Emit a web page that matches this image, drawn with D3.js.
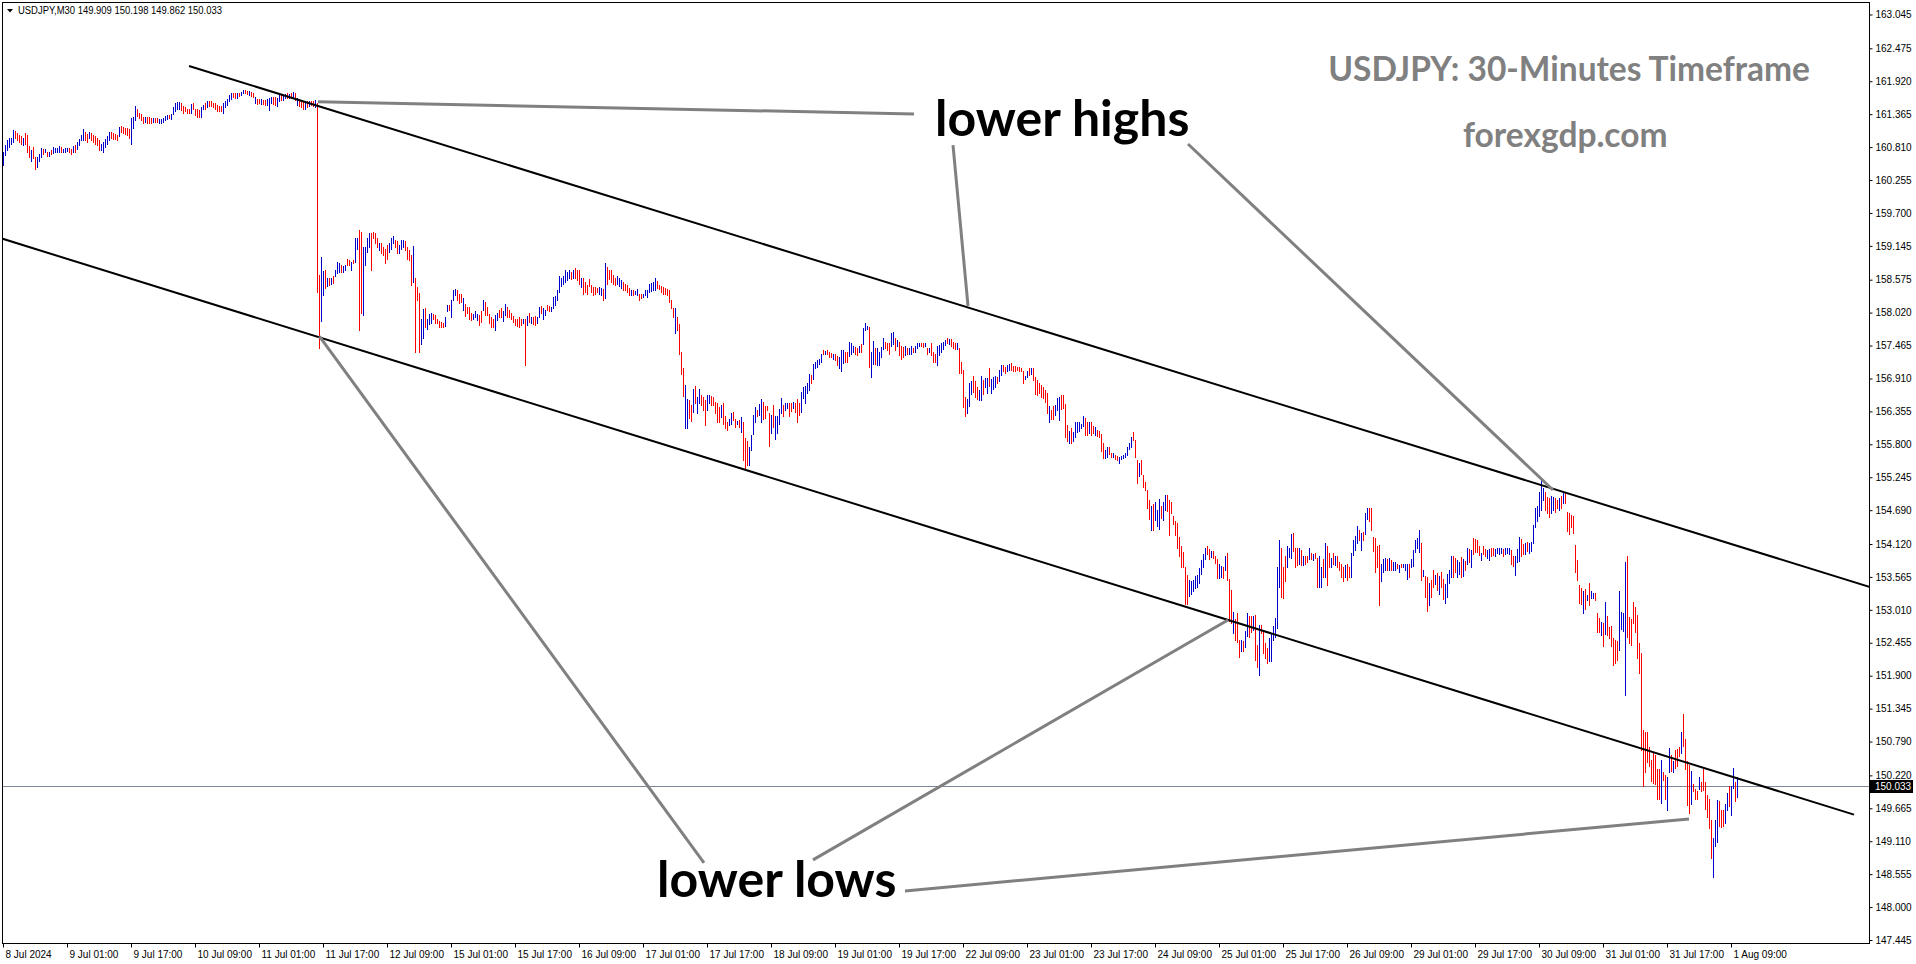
<!DOCTYPE html>
<html><head><meta charset="utf-8">
<script src="https://cdn.jsdelivr.net/npm/d3@7"></script>
<style>html,body{margin:0;padding:0;background:#fff;overflow:hidden}</style>
</head><body>
<svg id="c" width="1916" height="964"></svg>
<script>
// ---- DATA (30-minute bars, 8 Jul 2024 09:00 .. 1 Aug 2024 10:30) ----
const symbolName = "USDJPY,M30";
const lastOHLC = [149.909, 150.198, 149.862, 150.033];
const currentPrice = 150.033;

const highs = [
160.73,160.85,160.93,160.96,160.96,161.10,161.08,161.05,161.01,160.99,
160.96,161.05,161.01,160.83,160.76,160.81,160.65,160.64,160.69,160.79,
160.78,160.77,160.73,160.73,160.76,160.82,160.79,160.79,160.83,160.81,
160.77,160.79,160.79,160.79,160.77,160.83,160.85,160.90,160.95,161.01,
161.11,161.07,161.03,161.07,161.05,161.01,161.00,160.96,160.93,160.87,
160.90,160.94,161.00,161.07,161.07,161.04,161.03,161.01,161.15,161.17,
161.15,161.13,161.14,161.11,161.30,161.32,161.50,161.45,161.38,161.37,
161.32,161.32,161.32,161.31,161.30,161.30,161.30,161.30,161.28,161.28,
161.30,161.33,161.35,161.35,161.37,161.48,161.56,161.57,161.57,161.55,
161.50,161.48,161.46,161.46,161.54,161.55,161.46,161.45,161.44,161.49,
161.52,161.55,161.58,161.59,161.58,161.56,161.55,161.52,161.50,161.50,
161.55,161.59,161.62,161.69,161.73,161.73,161.72,161.72,161.72,161.74,
161.78,161.77,161.76,161.76,161.74,161.73,161.65,161.62,161.62,161.62,
161.60,161.60,161.62,161.63,161.66,161.66,161.65,161.63,161.69,161.69,
161.69,161.71,161.72,161.71,161.73,161.74,161.73,161.63,161.62,161.59,
161.58,161.58,161.59,161.58,161.58,161.58,161.60,161.55,158.65,158.96,
158.72,158.74,158.60,158.61,158.61,158.64,158.74,158.88,158.86,158.82,
158.81,158.82,158.92,158.91,158.88,158.91,159.27,159.27,159.42,159.38,
159.13,159.13,159.27,159.36,159.37,159.38,159.36,159.27,159.20,159.19,
159.13,159.10,159.16,159.19,159.27,159.31,159.24,159.22,159.16,159.24,
159.24,159.22,159.13,159.08,158.99,159.14,158.60,158.46,158.35,157.92,
158.08,158.09,157.92,157.99,158.01,157.99,157.98,157.92,157.88,157.87,
157.85,157.94,158.15,158.15,158.23,158.40,158.41,158.40,158.34,158.33,
158.26,158.16,158.12,158.11,158.01,157.99,158.04,157.99,157.98,158.04,
158.23,158.20,158.12,157.99,157.95,157.92,157.98,158.01,158.06,158.09,
158.04,158.16,158.12,158.06,158.01,157.96,157.92,157.92,157.95,157.92,
157.92,157.92,157.96,158.01,157.95,157.94,157.96,157.95,158.11,158.13,
158.09,158.07,158.15,158.13,158.12,158.29,158.30,158.40,158.63,158.61,
158.63,158.73,158.71,158.73,158.71,158.73,158.77,158.74,158.74,158.61,
158.60,158.54,158.48,158.58,158.48,158.46,158.45,158.43,158.45,158.43,
158.41,158.85,158.79,158.74,158.73,158.65,158.61,158.63,158.60,158.57,
158.54,158.51,158.49,158.43,158.40,158.40,158.39,158.41,158.34,158.33,
158.34,158.40,158.40,158.51,158.52,158.54,158.60,158.56,158.49,158.47,
158.45,158.43,158.41,158.40,158.24,158.09,158.09,157.95,157.83,157.35,
157.08,156.80,156.57,156.55,156.46,156.73,156.78,156.60,156.74,156.63,
156.60,156.55,156.63,156.63,156.61,156.60,156.52,156.49,156.43,156.46,
156.49,156.27,156.18,156.22,156.32,156.35,156.22,156.20,156.21,156.26,
156.18,155.90,155.85,155.76,155.96,156.29,156.43,156.38,156.48,156.56,
156.52,156.44,156.45,156.32,156.30,156.46,156.27,156.27,156.39,156.58,
156.46,156.50,156.49,156.49,156.50,156.52,156.49,156.56,156.50,156.69,
156.77,156.78,156.84,156.99,156.97,157.15,157.19,157.22,157.23,157.32,
157.39,157.38,157.39,157.36,157.34,157.33,157.33,157.29,157.28,157.39,
157.39,157.36,157.36,157.53,157.50,157.45,157.44,157.42,157.46,157.49,
157.76,157.84,157.80,157.78,157.36,157.55,157.42,157.42,157.36,157.44,
157.59,157.53,157.51,157.50,157.67,157.70,157.60,157.56,157.53,157.45,
157.44,157.45,157.42,157.42,157.45,157.42,157.46,157.50,157.51,157.50,
157.50,157.51,157.42,157.43,157.50,157.36,157.33,157.45,157.47,157.50,
157.53,157.56,157.60,157.57,157.57,157.53,157.51,157.50,157.43,157.19,
157.05,156.60,156.56,156.83,156.87,156.95,156.86,156.76,156.72,156.95,
156.88,156.91,156.91,157.08,156.90,156.93,156.95,156.94,157.05,157.14,
157.14,157.10,157.14,157.15,157.17,157.12,157.12,157.11,157.10,157.08,
157.03,156.95,157.03,157.08,157.08,157.08,156.93,156.88,156.83,156.80,
156.77,156.72,156.66,156.45,156.38,156.45,156.46,156.58,156.60,156.63,
156.63,156.48,156.13,156.03,156.07,156.00,156.18,156.17,156.18,156.14,
156.27,156.24,156.18,156.17,156.18,156.11,156.09,156.04,156.03,155.97,
155.82,155.71,155.76,155.75,155.66,155.65,155.62,155.60,155.58,155.60,
155.62,155.66,155.76,155.83,155.93,156.00,155.87,155.54,155.48,155.53,
155.28,155.17,155.03,154.86,154.76,154.79,154.83,154.69,154.87,154.76,
154.83,154.95,154.95,154.86,154.83,154.59,154.50,154.48,154.23,154.08,
153.99,153.74,153.60,153.51,153.49,153.51,153.58,153.60,153.71,153.85,
153.95,154.06,154.09,154.03,154.01,154.01,153.91,153.86,153.79,153.75,
153.74,153.91,153.96,153.53,153.35,152.98,152.85,152.95,152.51,152.50,
152.49,152.66,152.96,152.91,152.90,152.91,152.92,152.42,152.76,152.76,
152.66,152.45,152.36,152.53,152.62,152.74,152.87,153.74,154.19,154.06,
153.74,153.92,154.08,154.06,154.29,154.30,154.05,154.05,154.05,154.02,
153.92,153.92,153.91,154.05,153.96,153.95,153.97,153.89,153.91,153.74,
153.86,154.13,154.09,153.96,153.88,153.96,153.91,153.91,153.82,153.79,
153.74,153.77,153.79,153.74,153.96,154.18,154.26,154.42,154.36,154.30,
154.33,154.64,154.72,154.72,154.72,154.23,154.22,154.09,154.10,153.79,
153.86,153.88,153.86,153.88,153.85,153.82,153.81,153.79,153.77,153.78,
153.78,153.79,153.78,153.78,153.86,154.02,154.19,154.22,154.35,154.14,
153.68,153.58,153.56,153.47,153.52,153.68,153.60,153.63,153.58,153.65,
153.53,153.45,153.62,153.69,153.92,153.91,153.88,153.85,153.82,153.90,
153.86,153.83,154.05,154.03,154.02,154.22,154.20,154.19,154.09,153.97,
154.09,154.03,154.02,154.03,154.05,154.06,154.03,154.05,154.05,154.05,
154.03,154.05,154.05,154.06,154.02,153.92,153.91,154.03,154.23,154.20,
154.12,154.14,154.16,154.14,154.16,154.44,154.72,154.76,154.99,155.23,
155.06,155.00,154.92,154.89,154.93,154.92,154.89,154.86,154.89,154.93,
155.00,155.00,154.66,154.64,154.61,154.59,154.10,153.85,153.43,153.37,
153.32,153.36,153.26,153.46,153.32,153.30,153.29,152.95,152.87,152.81,
152.79,153.15,152.90,152.72,152.74,152.53,152.51,152.49,153.33,152.98,
152.96,153.82,153.91,152.89,152.85,153.15,153.06,152.92,152.45,152.28,
150.99,150.95,150.95,150.70,150.48,150.59,150.56,150.32,150.32,150.48,
150.28,150.23,150.20,150.68,150.56,150.47,150.65,150.66,150.70,150.95,
151.25,150.84,150.46,150.39,150.29,150.07,149.99,149.95,150.19,150.10,
150.32,150.10,149.89,149.82,149.47,149.16,149.47,149.81,149.78,149.64,
149.64,149.74,149.93,150.04,150.04,150.34,150.10,150.198
];

const lows = [
160.51,160.68,160.76,160.82,160.86,160.90,160.96,160.93,160.90,160.87,
160.85,160.87,160.73,160.64,160.57,160.62,160.44,160.48,160.57,160.64,
160.69,160.72,160.66,160.66,160.69,160.71,160.72,160.73,160.73,160.72,
160.72,160.73,160.75,160.73,160.69,160.73,160.73,160.77,160.85,160.93,
160.93,160.93,160.89,160.96,160.93,160.90,160.87,160.85,160.76,160.76,
160.72,160.81,160.86,160.93,160.96,160.94,160.94,160.93,161.00,161.07,
161.04,161.03,161.01,160.96,160.86,161.13,161.27,161.33,161.30,161.27,
161.21,161.24,161.22,161.22,161.21,161.24,161.24,161.24,161.22,161.22,
161.24,161.27,161.28,161.30,161.28,161.37,161.41,161.45,161.46,161.44,
161.38,161.41,161.38,161.38,161.38,161.46,161.35,161.32,161.31,161.32,
161.45,161.46,161.48,161.50,161.50,161.48,161.45,161.42,161.41,161.41,
161.39,161.49,161.52,161.58,161.62,161.66,161.63,161.63,161.67,161.69,
161.72,161.72,161.71,161.69,161.67,161.66,161.55,161.54,161.55,161.54,
161.54,161.52,161.52,161.44,161.55,161.54,161.52,161.50,161.58,161.60,
161.60,161.63,161.63,161.63,161.63,161.63,161.60,161.52,161.50,161.48,
161.45,161.46,161.49,161.50,161.52,161.50,161.48,158.36,157.42,157.88,
158.32,158.43,158.47,158.49,158.51,158.52,158.64,158.68,158.71,158.71,
158.71,158.74,158.82,158.82,158.73,158.85,158.88,159.10,157.72,158.01,
157.98,158.82,159.05,159.13,158.73,159.27,159.19,159.13,159.08,159.02,
158.99,158.85,158.93,159.05,159.10,159.19,159.13,159.02,159.02,159.10,
159.13,159.08,158.92,158.91,158.49,158.54,157.35,158.23,157.36,157.49,
157.59,157.78,157.75,157.83,157.84,157.91,157.84,157.84,157.78,157.77,
157.77,157.79,158.04,158.07,157.95,158.23,158.32,158.24,158.19,158.20,
158.06,157.96,158.01,157.92,157.89,157.91,157.95,157.89,157.81,157.87,
158.06,157.98,157.98,157.84,157.78,157.77,157.73,157.89,157.94,157.95,
157.88,157.98,157.95,157.94,157.92,157.87,157.81,157.79,157.77,157.81,
157.84,157.14,157.81,157.87,157.84,157.83,157.81,157.84,157.94,158.01,
157.92,157.98,158.06,158.04,158.05,158.09,158.15,158.23,158.37,158.47,
158.51,158.54,158.57,158.60,158.58,158.60,158.60,158.57,158.51,158.45,
158.34,158.37,158.34,158.47,158.37,158.32,158.33,158.36,158.34,158.32,
158.24,158.26,158.51,158.58,158.54,158.51,158.49,158.51,158.47,158.43,
158.40,158.40,158.37,158.32,158.32,158.32,158.33,158.32,158.24,158.26,
158.28,158.32,158.28,158.36,158.39,158.40,158.40,158.43,158.41,158.37,
158.34,158.33,158.32,158.20,158.09,157.95,157.68,157.73,157.33,156.99,
156.62,156.07,156.07,156.24,156.19,156.35,156.49,156.32,156.49,156.46,
156.38,156.13,156.38,156.49,156.46,156.46,156.32,156.18,156.18,156.26,
156.15,156.07,156.04,156.13,156.15,156.21,156.09,156.14,156.10,156.00,
155.54,155.40,155.45,155.45,155.70,155.97,156.18,156.27,156.30,156.17,
156.22,156.24,156.38,155.77,155.99,156.10,155.89,155.99,156.15,156.32,
156.27,156.38,156.41,156.27,156.37,156.42,156.35,156.17,156.30,156.35,
156.58,156.49,156.67,156.72,156.83,156.90,157.08,157.11,157.15,157.18,
157.32,157.32,157.32,157.28,157.27,157.23,157.22,157.14,157.08,157.04,
157.17,157.19,157.18,157.29,157.32,157.36,157.32,157.31,157.36,157.35,
157.49,157.73,157.74,157.11,156.94,157.15,157.15,157.14,157.14,157.27,
157.40,157.42,157.39,157.32,157.45,157.49,157.39,157.46,157.31,157.23,
157.27,157.31,157.33,157.32,157.33,157.35,157.36,157.42,157.45,157.45,
157.44,157.45,157.33,157.35,157.31,157.18,157.18,157.14,157.31,157.35,
157.40,157.47,157.51,157.49,157.46,157.42,157.40,157.40,157.00,157.00,
156.43,156.27,156.32,156.45,156.65,156.69,156.59,156.56,156.54,156.55,
156.65,156.76,156.67,156.78,156.67,156.73,156.76,156.84,156.86,156.97,
157.03,157.01,157.03,157.06,157.05,157.04,157.04,157.05,157.03,157.04,
156.83,156.90,156.93,156.97,156.99,156.88,156.65,156.63,156.66,156.60,
156.58,156.52,156.33,156.18,156.22,156.22,156.30,156.38,156.21,156.39,
156.41,155.92,155.85,155.82,155.82,155.85,155.93,156.01,156.03,156.07,
156.11,155.96,155.96,155.99,155.96,155.99,155.96,155.94,155.93,155.68,
155.57,155.57,155.59,155.64,155.59,155.58,155.55,155.53,155.49,155.55,
155.57,155.59,155.62,155.72,155.76,155.87,155.59,155.15,155.26,155.30,
155.08,155.03,154.72,154.54,154.35,154.36,154.53,154.42,154.38,154.55,
154.53,154.69,154.68,154.27,154.64,154.46,154.27,154.05,153.91,153.74,
153.74,153.11,153.11,153.24,153.28,153.32,153.37,153.40,153.46,153.61,
153.74,153.86,153.95,153.86,153.90,153.88,153.80,153.54,153.54,153.56,
153.54,153.68,153.51,152.83,152.78,152.62,152.50,152.47,152.22,152.31,
152.31,152.38,152.57,152.56,152.64,152.67,152.17,152.05,151.91,152.62,
152.28,152.19,152.11,152.14,152.14,152.50,152.56,152.70,153.40,153.22,
153.21,153.50,153.74,153.90,153.88,154.01,153.74,153.77,153.79,153.77,
153.77,153.79,153.82,153.86,153.86,153.85,153.88,153.39,153.40,153.40,
153.56,153.56,153.43,153.74,153.74,153.79,153.77,153.74,153.68,153.57,
153.49,153.57,153.51,153.56,153.57,153.94,154.02,154.13,154.19,154.02,
154.19,154.29,154.54,154.50,154.36,154.01,153.65,153.73,153.09,153.50,
153.64,153.68,153.69,153.68,153.69,153.69,153.68,153.71,153.65,153.73,
153.73,153.69,153.53,153.57,153.74,153.75,153.99,154.05,153.99,153.51,
153.58,153.23,152.99,153.09,153.22,153.39,153.45,153.35,153.28,153.39,
153.20,153.13,153.23,153.47,153.57,153.57,153.64,153.57,153.61,153.57,
153.58,153.68,153.78,153.82,153.73,153.95,153.99,153.99,153.94,153.85,
153.95,153.92,153.88,153.85,153.91,153.93,153.92,153.97,153.95,153.97,
153.91,153.95,153.97,153.95,153.78,153.75,153.60,153.81,153.84,153.92,
153.95,153.95,154.01,153.97,154.01,154.14,154.40,154.51,154.59,154.69,
154.86,154.69,154.65,154.58,154.65,154.69,154.66,154.72,154.69,154.72,
154.81,154.81,154.34,154.29,154.41,154.30,153.64,153.51,153.12,153.11,
152.96,153.02,153.17,153.09,153.21,153.21,153.17,152.63,152.63,152.59,
152.40,152.61,152.59,152.53,152.40,152.08,152.11,152.17,152.33,152.68,
152.66,151.58,152.56,152.45,152.42,152.79,152.64,152.19,151.94,150.65,
150.04,150.28,150.45,150.37,150.13,150.09,150.07,149.82,149.82,149.76,
150.14,149.82,149.63,150.27,150.30,150.27,150.34,150.38,150.54,150.59,
150.72,150.32,149.72,149.58,149.74,149.95,149.83,149.83,149.99,149.96,
149.97,149.65,149.51,149.34,148.82,148.50,149.03,149.09,149.37,149.35,
149.36,149.41,149.64,149.70,149.55,150.00,149.78,149.862
];

// B = bullish (blue), R = bearish (red)
const dirs = (
"BBBBBBRRRR"+"BRRRBRRBBB"+"RBRBRBBBBR"+"BBBRRBRBBB"+"BRRBRRRRRB"+
"BBBBRRRRBR"+"RRRRBBBRRR"+"RBRRRBRRBB"+"BBBRBBBBBR"+"RRRRBRRRRB"+
"BRBRRRRRRR"+"BBBBBRRBRB"+"BRRBRRBRRB"+"RRBBBRRBBR"+"BBRBRBRBRR"+
"RBRBRRBRRB"+"BRBRBRBBBR"+"BBRRBRBBRR"+"BBBBRRRRBR"+"RRRBBBRRBB"+
"BRRRRBRRRB"+"BRBBBRRRRR"+"RBBRBBBRRR"+"BRRRRBBBRR"+"BRRRRRBBRR"+
"BBRRRRRRRR"+"BRBRBRRBBR"+"BBRRBBBBBB"+"BBBBRBRRRB"+"RRRRRRRRBB"+
"RBRRRRRBBB"+"RRRRBRBBRR"+"BBBBBBBRRR"+"RRRRRRBRRR"+"RBBRRBRBBR"+
"RRBBRRRRRB"+"RRRBBRRBRB"+"RRRBBBBRBB"+"RRRRBRBBBB"+"RBBRRBRRRB"+
"BBBBRBBBBB"+"RBRRRBRRBB"+"BRRBBBRRBR"+"BBBRBBRBBB"+"BRRRBBRBRR"+
"RBRBBRBBBR"+"RBRBRRRBBB"+"BBRBRRRBRR"+"RRBBBRRRBB"+"RBBRBBBRBB"+
"RRBBRRRRRR"+"RBBRBRRRRR"+"RRRBRRBBBR"+"RRRBRBBBBB"+"BRRBRRBRRR"+
"RBBRRBRRBB"+"BBBBBRRRBR"+"RRRRBRBBBR"+"BBRRRRRRRR"+"RRRBBBBBBB"+
"BBRRBRRRBB"+"RBRRRBRRRB"+"RBBRRBRRBR"+"RRRBBBBBBR"+"RRBBBRRRBR"+
"BRRBRBRRBB"+"RBRRBRBRRR"+"RBRRBBBBRB"+"RBBRRRRRRB"+"BBRBRBBRBR"+
"BBBRBBBBBR"+"BRRBRRBRBR"+"RBBBBRRBBR"+"BRBRBRRRRB"+"RRBBRRBBBB"+
"RBBBRRBBBR"+"RBRBBBBBBB"+"BRRRBBRRBR"+"BRRRRRRRRR"+"BRBRBBRRRB"+
"RBRRRRRRBB"+"BBRRRRRRRR"+"RRRRRRRRRB"+"RRBBRBRRRB"+"RRRRBRRRBR"+
"RRRRRBBBRR"+"RBBRBBRB").split("");

const timeLabels = ["8 Jul 2024","9 Jul 01:00","9 Jul 17:00","10 Jul 09:00","11 Jul 01:00","11 Jul 17:00",
"12 Jul 09:00","15 Jul 01:00","15 Jul 17:00","16 Jul 09:00","17 Jul 01:00","17 Jul 17:00","18 Jul 09:00",
"19 Jul 01:00","19 Jul 17:00","22 Jul 09:00","23 Jul 01:00","23 Jul 17:00","24 Jul 09:00","25 Jul 01:00",
"25 Jul 17:00","26 Jul 09:00","29 Jul 01:00","29 Jul 17:00","30 Jul 09:00","31 Jul 01:00","31 Jul 17:00","1 Aug 09:00"];
const barsPerLabel = 32;

const priceTicks = [163.045,162.475,161.920,161.365,160.810,160.255,159.700,159.145,158.575,158.020,
157.465,156.910,156.355,155.800,155.245,154.690,154.120,153.565,153.010,152.455,151.900,151.345,
150.790,150.220,149.665,149.110,148.555,148.000,147.445];

// channel lines and annotation lines, as [bar index, price]
const channelLines = [
  [[93, 162.177], [934.5, 153.384]],
  [[-1.5, 159.278], [925.5, 149.558]]
];
const pointerLines = [
  [[157.5, 161.575], [455.5, 161.368]],
  [[475, 160.845], [482.5, 158.132]],
  [[592.5, 160.862], [775, 155.030]],
  [[158.25, 157.618], [350.5, 148.744]],
  [[405, 148.795], [612.5, 152.840]],
  [[451, 148.272], [843, 149.485]]
];
const notes = [
  {text: "lower highs", bar: 466, price: 161.00},
  {text: "lower lows", bar: 327, price: 148.17}
];
const titleText = "USDJPY: 30-Minutes Timeframe";
const siteText = "forexgdp.com";

// ---- DRAW ----
const svg = d3.select("#c");
const n = Math.min(highs.length, lows.length);
const x = d3.scaleLinear().domain([0, 867]).range([3, 1737]);
const y = d3.scaleLinear().domain([147.445, 163.045]).range([940, 14.5]);
const frame = {l: 2.5, t: 2.5, r: 1869.5, b: 943.5};
const AX = "'Liberation Sans', Arial, sans-serif";

svg.append("rect").attr("width", 1916).attr("height", 964).attr("fill", "#fff");
svg.append("defs").append("clipPath").attr("id", "plot")
  .append("rect").attr("x", 3).attr("y", 3).attr("width", 1866).attr("height", 940);

const plot = svg.append("g").attr("clip-path", "url(#plot)");

// current price line
plot.append("line")
  .attr("x1", 3).attr("x2", frame.r)
  .attr("y1", Math.round(y(currentPrice)) + 0.5).attr("y2", Math.round(y(currentPrice)) + 0.5)
  .attr("stroke", "#7d8796").attr("stroke-width", 1);

// bars
const bars = d3.range(n).map(i => ({i, h: highs[i], l: lows[i], up: dirs[i] === "B"}));
plot.append("g").attr("shape-rendering", "crispEdges")
  .selectAll("rect").data(bars).join("rect")
  .attr("x", d => Math.round(x(d.i)))
  .attr("width", 1)
  .attr("y", d => Math.round(y(d.h)))
  .attr("height", d => Math.max(1, Math.round(y(d.l)) - Math.round(y(d.h)) + 1))
  .attr("fill", d => d.up ? "#0000cd" : "#ff0000");

const line = d3.line().x(d => x(d[0])).y(d => y(d[1]));

plot.append("g").selectAll("path").data(channelLines).join("path")
  .attr("d", line).attr("fill", "none").attr("stroke", "#000").attr("stroke-width", 2);

plot.append("g").selectAll("path").data(pointerLines).join("path")
  .attr("d", line).attr("fill", "none").attr("stroke", "#808080").attr("stroke-width", 3);

// notes
plot.append("g").selectAll("text").data(notes).join("text")
  .attr("x", d => x(d.bar)).attr("y", d => y(d.price))
  .attr("font-family", "Lato, sans-serif").attr("font-weight", 700).attr("font-size", 50)
  .attr("fill", "#000").text(d => d.text);

plot.append("text").attr("x", 1810).attr("y", 81).attr("text-anchor", "end")
  .attr("font-family", "Lato, sans-serif").attr("font-weight", 700).attr("font-size", 33.5)
  .attr("fill", "#808080").text(titleText);
plot.append("text").attr("x", 1463).attr("y", 147)
  .attr("font-family", "Lato, sans-serif").attr("font-weight", 700).attr("font-size", 33.5)
  .attr("fill", "#808080").text(siteText);

// header
plot.append("path").attr("d", "M7,9 L13,9 L10,12.5 Z").attr("fill", "#000");
plot.append("text").attr("x", 18).attr("y", 14)
  .attr("font-family", AX).attr("font-size", 10).attr("fill", "#000")
  .attr("textLength", 204).attr("lengthAdjust", "spacingAndGlyphs")
  .text(symbolName + "  " + lastOHLC.map(v => v.toFixed(3)).join(" "));

// frame
svg.append("rect").attr("x", frame.l).attr("y", frame.t)
  .attr("width", frame.r - frame.l).attr("height", frame.b - frame.t)
  .attr("fill", "none").attr("stroke", "#000").attr("stroke-width", 1)
  .attr("shape-rendering", "crispEdges");

// price axis
const yAxis = d3.axisRight(y).tickValues(priceTicks).tickSize(3).tickPadding(3)
  .tickFormat(d3.format(".3f"));
const ya = svg.append("g").attr("transform", `translate(${frame.r},0)`).call(yAxis);
ya.select(".domain").remove();
ya.selectAll("text").attr("font-family", AX).attr("font-size", 10).attr("fill", "#000");
ya.selectAll("line").attr("stroke", "#000");

// time axis
const tickIdx = timeLabels.map((_, k) => k * barsPerLabel);
const xAxis = d3.axisBottom(x).tickValues(tickIdx).tickSize(4).tickPadding(3)
  .tickFormat((d, i) => timeLabels[i]);
const xa = svg.append("g").attr("transform", `translate(0,${frame.b})`).call(xAxis);
xa.select(".domain").remove();
xa.selectAll("text").attr("text-anchor", "start").attr("x", 2)
  .attr("font-family", AX).attr("font-size", 10).attr("fill", "#000");
xa.selectAll("line").attr("stroke", "#000");

// current price tag
const cy = Math.round(y(currentPrice));
svg.append("rect").attr("x", frame.r + 0.5).attr("y", cy - 6).attr("width", 43).attr("height", 13).attr("fill", "#000");
svg.append("text").attr("x", frame.r + 5.5).attr("y", cy + 4)
  .attr("font-family", AX).attr("font-size", 10).attr("fill", "#fff")
  .text(currentPrice.toFixed(3));
</script>
</body></html>
